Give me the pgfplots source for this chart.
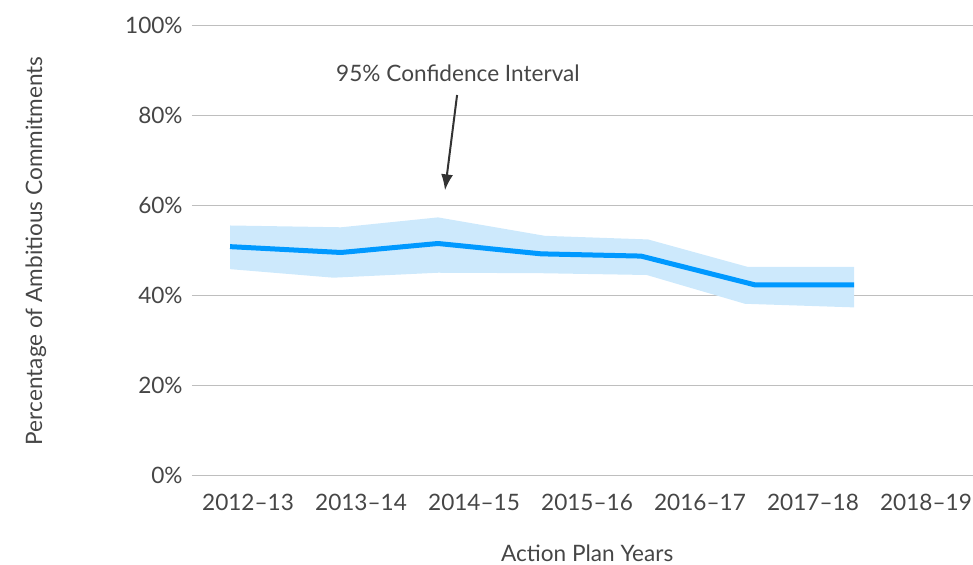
\documentclass[border=0pt]{standalone}
\usepackage{fontspec}
\setmainfont{Lato}
\usepackage{pgfplots}
\pgfplotsset{compat=1.18}
\usetikzlibrary{arrows.meta}
\definecolor{linecol}{RGB}{0,153,255}
\definecolor{bandcol}{RGB}{205,233,252}
\definecolor{txt}{RGB}{70,70,70}
\definecolor{gridc}{RGB}{190,190,190}
\newcommand{\fs}{\fontsize{11.3}{13}\selectfont}
\begin{document}
\begin{tikzpicture}
\begin{axis}[
  at={(0,0)}, anchor=south west,
  scale only axis, width=390.5pt, height=225pt,
  xmin=-0.496, xmax=6.416, ymin=0, ymax=100,
  axis line style={draw=none}, tick style={draw=none},
  ymajorgrids, grid style={gridc, line width=0.7pt},
  xtick={0,1,2,3,4,5,6},
  xticklabels={2012–13,2013–14,2014–15,2015–16,2016–17,2017–18,2018–19},
  ytick={0,20,40,60,80,100},
  yticklabels={0\%,20\%,40\%,60\%,80\%,100\%},
  /pgf/number format/assume math mode=true,
  tick label style={font=\fs, text=txt},
  xticklabel style={anchor=center, yshift=-13.2pt},
  yticklabel style={anchor=east, inner sep=0pt, xshift=-4.5pt},
  label style={font=\fs, text=txt},
  xlabel={Action Plan Years},
  xlabel style={at={(axis description cs:0.506,-0.172)}, anchor=center},
  ylabel={Percentage of Ambitious Commitments},
  ylabel style={at={(axis description cs:-0.2,0.5)}, anchor=center},
]
\addplot[draw=none, fill=bandcol] coordinates {
  (-0.159,55.6) (0.823,55.2) (1.681,57.4) (2.628,53.3) (3.540,52.5) (4.422,46.4) (5.363,46.4)
  (5.363,37.4) (4.398,38.2) (3.528,44.6) (2.584,45.0) (1.681,45.1) (0.755,44.0) (-0.159,45.9)
} -- cycle;
\addplot[linecol, line width=2.5pt, line join=round] coordinates {
  (-0.159,50.9) (0.823,49.6) (1.681,51.6) (2.593,49.3) (3.478,48.8) (4.487,42.4) (5.363,42.4)
};
\node[font=\fs, text=txt] at (axis cs:1.858,89.5) {95\% Confidence Interval};
\draw[-{Latex[length=8pt,width=6pt]}, line width=1pt, draw=black!80] (axis cs:1.85,84.6) -- (axis cs:1.743,63.4);
\end{axis}
\pgfresetboundingbox
\path (-96pt,-44.65pt) rectangle (390.5pt,237.85pt);
\end{tikzpicture}
\end{document}
